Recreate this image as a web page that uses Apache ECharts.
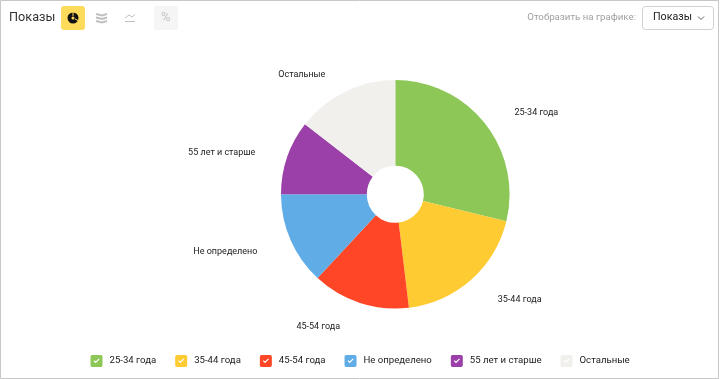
<!DOCTYPE html>
<html>
<head>
<meta charset="utf-8">
<script src="https://cdn.jsdelivr.net/npm/echarts@6/dist/echarts.min.js"></script>
<style>
	html, body { margin: 0; padding: 0; background: #fff; }
	#chart { width: 720px; height: 379px; }
</style>
</head>
<body>
<div id="chart"></div>
<script>
var categories = ['25-34 года', '35-44 года', '45-54 года', 'Не определено', '55 лет и старше', 'Остальные'];
var shows = [28.8, 19.3, 13.8, 13.1, 10.5, 14.5];
var colors = ['#8dc757', '#ffcb33', '#ff4626', '#60ace6', '#9b40a8', '#f1f0ed'];

var fontName = 'Roboto, "Noto Sans", sans-serif';
// rounded square with the tick cut out of it (tick runs the other way round)
var checkIcon = 'path://M2,0 L12,0 Q14,0 14,2 L14,12 Q14,14 12,14 L2,14 Q0,14 0,12 L0,2 Q0,0 2,0 Z ' +
	'M3.5,7 L6,9.6 L10.6,5 L9.7,4 L6,7.6 L4.5,6 Z';
var labelDx = [-1, -1, 0, 0, 2, 3];

var chart = echarts.init(document.getElementById('chart'), null, { renderer: 'canvas' });

var seriesData = [];
for (var i = 0; i < categories.length; i++) {
	seriesData.push({ name: categories[i], value: shows[i], itemStyle: { color: colors[i] } });
}

var grey = '#c0c0c0';

chart.setOption({
	animation: false,
	legend: {
		data: categories,
		left: 90.5,
		top: 355,
		icon: checkIcon,
		itemWidth: 12,
		itemHeight: 12,
		itemGap: 19,
		padding: 0,
		textStyle: { fontFamily: fontName, fontSize: 9.6, color: '#222', padding: [0, 0, 0, 2] }
	},
	series: [{
		type: 'pie',
		center: [395.3, 194.3],
		radius: [28.5, 114.3],
		clockwise: true,
		startAngle: 90,
		avoidLabelOverlap: false,
		silent: true,
		label: {
			show: true,
			position: 'outside',
			fontFamily: fontName,
			fontSize: 9,
			color: '#222',
			distanceToLabelLine: 4
		},
		labelLine: { show: false, length: 22, length2: 9 },
		labelLayout: function(params) {
			return { dx: labelDx[params.dataIndex], dy: 3 };
		},
		data: seriesData
	}],
	graphic: [
		// frame
		{ type: 'rect', silent: true, shape: { x: 0.5, y: 0.5, width: 718, height: 378 }, style: { fill: 'none', stroke: '#c8c8c8', lineWidth: 1 } },
		// header
		{ type: 'text', left: 9, top: 11, style: { text: 'Показы', font: '12.7px ' + fontName, fill: '#333' } },
		{ type: 'rect', shape: { x: 61, y: 6, width: 24, height: 24, r: 3 }, style: { fill: '#ffdb5c' } },
		{ type: 'ring', shape: { cx: 73, cy: 18, r: 5.5, r0: 1.5 }, style: { fill: '#111' } },
		{ type: 'line', shape: { x1: 73, y1: 12, x2: 73, y2: 16 }, style: { stroke: '#ffdb5c', lineWidth: 1 } },
		{ type: 'line', shape: { x1: 75, y1: 19, x2: 79, y2: 21 }, style: { stroke: '#ffdb5c', lineWidth: 1 } },
		{ type: 'polyline', shape: { points: [[96, 14], [102, 15.5], [107, 14]] }, style: { fill: 'none', stroke: grey, lineWidth: 2 } },
		{ type: 'polyline', shape: { points: [[96, 17.5], [102, 19], [107, 17.5]] }, style: { fill: 'none', stroke: grey, lineWidth: 2 } },
		{ type: 'polyline', shape: { points: [[96, 21], [102, 22.5], [107, 21]] }, style: { fill: 'none', stroke: grey, lineWidth: 2 } },
		{ type: 'polyline', shape: { points: [[125, 18], [129, 15], [132, 17], [135, 14.5]] }, style: { fill: 'none', stroke: grey, lineWidth: 1 } },
		{ type: 'line', shape: { x1: 125, y1: 21.5, x2: 135, y2: 21.5 }, style: { stroke: grey, lineWidth: 1 } },
		{ type: 'rect', shape: { x: 154, y: 6, width: 24, height: 24, r: 3 }, style: { fill: '#f5f5f5' } },
		{ type: 'text', left: 161, top: 11, style: { text: '%', font: '13px ' + fontName, fill: '#c4c4c4' } },
		{ type: 'text', right: 84, top: 13, style: { text: 'Отобразить на графике:', font: '9.7px ' + fontName, fill: '#a0a0a0' } },
		{ type: 'rect', shape: { x: 642.5, y: 6.5, width: 71, height: 23, r: 3 }, style: { fill: '#fff', stroke: '#d0d0d0', lineWidth: 1 } },
		{ type: 'text', left: 653, top: 12, style: { text: 'Показы', font: '10.7px ' + fontName, fill: '#222' } },
		{ type: 'polyline', shape: { points: [[698, 16.5], [701, 19.5], [704, 16.5]] }, style: { fill: 'none', stroke: '#666', lineWidth: 1 } }
	]
});
</script>
</body>
</html>
